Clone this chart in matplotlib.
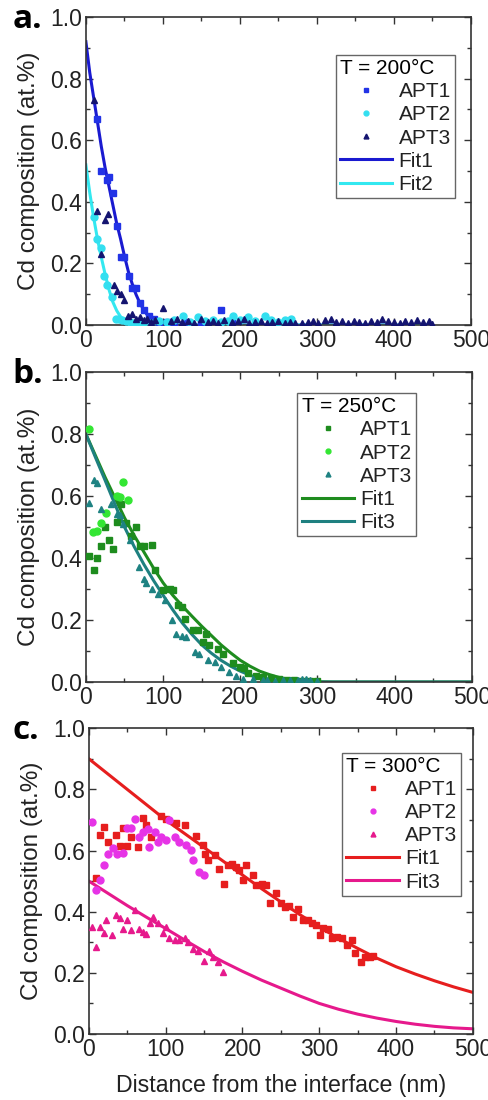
import matplotlib.pyplot as plt
import numpy as np

plt.rcParams['font.family'] = ['Liberation Sans', 'DejaVu Sans']

# ---------------- panel a: T = 200 C ----------------
a_apt1_x = [15, 20, 27, 30, 35, 41, 46, 50, 56, 60, 65, 70, 75, 82, 88, 95, 105, 115, 130, 150, 175, 190]
a_apt1_y = [0.67, 0.50, 0.47, 0.48, 0.43, 0.32, 0.22, 0.22, 0.16, 0.12, 0.12, 0.07, 0.05, 0.03, 0.02, 0.01,
            0.01, 0.008, 0.01, 0.006, 0.048, 0.01]
a_apt2_x = [10, 15, 19, 23, 28, 34, 39, 43, 47, 52, 57, 62, 68, 75, 85, 95, 105, 115, 126, 135, 145, 155,
            165, 175, 185, 191, 200, 210, 220, 232, 240, 250, 258, 267]
a_apt2_y = [0.35, 0.28, 0.25, 0.16, 0.13, 0.09, 0.02, 0.02, 0.016, 0.012, 0.01, 0.008, 0.006, 0.01, 0.008,
            0.012, 0.01, 0.015, 0.03, 0.01, 0.027, 0.012, 0.015, 0.01, 0.012, 0.03, 0.015, 0.027, 0.012, 0.03,
            0.015, 0.01, 0.015, 0.02]
a_apt3_x = [11, 15, 20, 25, 29, 36, 41, 45, 50, 55, 60, 65, 70, 75, 80, 85, 90, 100, 110, 118, 125, 132, 140,
            150, 158, 165, 172, 180, 190, 198, 205, 212, 220, 228, 235, 242, 250, 258, 265, 272, 280, 288,
            295, 302, 310, 318, 325, 332, 340, 348, 355, 362, 370, 378, 385, 392, 400, 408, 415, 422, 430,
            438, 445, 450]
a_apt3_y = [0.73, 0.37, 0.23, 0.34, 0.36, 0.13, 0.11, 0.10, 0.08, 0.03, 0.035, 0.02, 0.025, 0.015, 0.02, 0.01,
            0.015, 0.055, 0.012, 0.02, 0.01, 0.012, 0.008, 0.02, 0.01, 0.012, 0.008, 0.015, 0.01, 0.012,
            0.02, 0.008, 0.01, 0.012, 0.006, 0.01, 0.012, 0.008, 0.01, 0.006, 0.008, 0.01, 0.012, 0.008,
            0.015, 0.02, 0.01, 0.012, 0.008, 0.012, 0.01, 0.008, 0.012, 0.01, 0.02, 0.012, 0.01, 0.008,
            0.012, 0.01, 0.015, 0.01, 0.012, 0.005]
a_fit1_x = [0, 5, 10, 15, 20, 25, 30, 35, 40, 45, 50, 55, 60, 65, 70, 75, 80, 85, 90, 95, 100, 450]
a_fit1_y = [0.92, 0.82, 0.74, 0.66, 0.58, 0.51, 0.45, 0.39, 0.33, 0.28, 0.225, 0.175, 0.135, 0.10, 0.072,
            0.05, 0.032, 0.02, 0.011, 0.004, 0.0, 0.0]
a_fit2_x = [0, 5, 10, 15, 20, 25, 30, 35, 40, 45, 50, 55, 60, 65, 450]
a_fit2_y = [0.52, 0.43, 0.35, 0.28, 0.22, 0.165, 0.115, 0.075, 0.047, 0.027, 0.014, 0.006, 0.002, 0.0, 0.0]

# ---------------- panel b: T = 250 C ----------------
b_apt1_x = [4, 11, 15, 20, 25, 30, 35, 40, 45, 52, 59, 65, 70, 75, 85, 89, 100, 109, 113, 119, 124, 128,
            139, 145, 152, 156, 160, 171, 178, 190, 199, 205, 210, 220, 230, 240, 250, 260, 270, 280, 290, 300]
b_apt1_y = [0.405, 0.36, 0.40, 0.44, 0.50, 0.457, 0.43, 0.516, 0.575, 0.513, 0.47, 0.50, 0.44, 0.44, 0.443,
            0.36, 0.296, 0.30, 0.296, 0.247, 0.242, 0.204, 0.167, 0.167, 0.13, 0.156, 0.118, 0.108, 0.09,
            0.06, 0.048, 0.045, 0.03, 0.02, 0.015, 0.012, 0.01, 0.008, 0.005, 0.004, 0.003, 0.002]
b_apt2_x = [4, 9, 14, 19, 26, 40, 44, 48, 55]
b_apt2_y = [0.815, 0.485, 0.486, 0.514, 0.545, 0.60, 0.597, 0.645, 0.586]
b_apt3_x = [4, 10, 15, 20, 33, 40, 44, 48, 57, 69, 75, 78, 85, 94, 102, 111, 117, 124, 130, 141, 147, 158,
            167, 175, 186, 195, 203, 216, 229, 235, 245, 255, 265, 275, 280, 285, 290, 300]
b_apt3_y = [0.577, 0.653, 0.642, 0.557, 0.575, 0.543, 0.538, 0.51, 0.457, 0.37, 0.333, 0.32, 0.30, 0.285,
            0.263, 0.199, 0.156, 0.15, 0.145, 0.097, 0.09, 0.07, 0.065, 0.048, 0.032, 0.02, 0.01, 0.01,
            0.005, 0.005, 0.004, 0.006, 0.005, 0.008, 0.01, 0.01, 0.008, 0.003]
b_fit1_x = [0, 12.5, 25, 37.5, 50, 62.5, 75, 87.5, 100, 112.5, 125, 137.5, 150, 162.5, 175, 187.5, 200,
            212.5, 225, 237.5, 250, 262.5, 275, 287.5, 300, 320, 500]
b_fit1_y = [0.80, 0.73, 0.66, 0.595, 0.53, 0.473, 0.42, 0.368, 0.32, 0.28, 0.245, 0.212, 0.18, 0.15, 0.12,
            0.094, 0.07, 0.051, 0.035, 0.024, 0.015, 0.009, 0.005, 0.0025, 0.001, 0.0, 0.0]
b_fit3_x = [0, 12.5, 25, 37.5, 50, 62.5, 75, 87.5, 100, 112.5, 125, 137.5, 150, 162.5, 175, 187.5, 200,
            212.5, 225, 237.5, 250, 262.5, 275, 500]
b_fit3_y = [0.80, 0.724, 0.65, 0.574, 0.50, 0.437, 0.38, 0.328, 0.28, 0.233, 0.19, 0.153, 0.12, 0.093, 0.07,
            0.051, 0.035, 0.022, 0.012, 0.006, 0.002, 0.0005, 0.0, 0.0]

# ---------------- panel c: T = 300 C ----------------
c_apt1_x = [10, 14, 20, 25, 35, 40, 44, 50, 55, 64, 70, 75, 81, 94, 101, 114, 125, 140, 149, 151, 155, 164,
            170, 176, 181, 186, 191, 196, 201, 205, 214, 218, 225, 231, 236, 244, 250, 255, 260, 266, 272,
            279, 286, 290, 296, 301, 305, 312, 317, 323, 329, 336, 342, 347, 354, 360, 366, 370]
c_apt1_y = [0.509, 0.65, 0.677, 0.628, 0.65, 0.614, 0.675, 0.614, 0.645, 0.612, 0.707, 0.683, 0.645, 0.712,
            0.704, 0.69, 0.683, 0.648, 0.617, 0.588, 0.57, 0.585, 0.54, 0.49, 0.552, 0.556, 0.547, 0.536,
            0.505, 0.552, 0.52, 0.487, 0.492, 0.487, 0.43, 0.46, 0.427, 0.416, 0.42, 0.384, 0.41, 0.373,
            0.373, 0.362, 0.357, 0.324, 0.346, 0.342, 0.313, 0.318, 0.313, 0.29, 0.308, 0.264, 0.237,
            0.253, 0.253, 0.255]
c_apt2_x = [4, 10, 15, 20, 25, 31, 37, 44, 50, 55, 60, 65, 70, 77, 79, 86, 90, 94, 101, 105, 112, 118, 127,
            133, 136, 144, 150]
c_apt2_y = [0.693, 0.47, 0.505, 0.552, 0.59, 0.607, 0.59, 0.592, 0.675, 0.675, 0.704, 0.645, 0.661, 0.672,
            0.612, 0.661, 0.628, 0.645, 0.634, 0.699, 0.645, 0.628, 0.617, 0.601, 0.568, 0.53, 0.52]
c_apt3_x = [4, 10, 15, 20, 23, 30, 35, 40, 44, 50, 55, 60, 65, 70, 75, 80, 84, 90, 96, 101, 105, 112, 118,
            125, 129, 136, 142, 150, 157, 162, 168, 175]
c_apt3_y = [0.35, 0.286, 0.35, 0.33, 0.373, 0.324, 0.39, 0.38, 0.343, 0.373, 0.34, 0.405, 0.342, 0.335,
            0.327, 0.362, 0.384, 0.362, 0.33, 0.35, 0.313, 0.308, 0.308, 0.313, 0.302, 0.277, 0.27, 0.24,
            0.27, 0.253, 0.237, 0.204]
c_fit1_x = [0, 25, 50, 75, 100, 125, 150, 175, 200, 225, 250, 275, 300, 325, 350, 375, 400, 425, 450, 475, 500]
c_fit1_y = [0.90, 0.85, 0.80, 0.75, 0.70, 0.655, 0.61, 0.565, 0.52, 0.475, 0.432, 0.39, 0.35, 0.313, 0.28,
            0.248, 0.22, 0.196, 0.174, 0.154, 0.136]
c_fit3_x = [0, 25, 50, 75, 100, 125, 150, 175, 200, 225, 250, 275, 300, 325, 350, 375, 400, 425, 450, 475, 500]
c_fit3_y = [0.50, 0.46, 0.42, 0.382, 0.345, 0.307, 0.27, 0.236, 0.205, 0.176, 0.15, 0.124, 0.10, 0.081,
            0.065, 0.052, 0.041, 0.032, 0.025, 0.02, 0.017]

panels = [
    dict(label='a.', temp='T = 200°C', rect=[0.176, 0.7045, 0.789, 0.28], leg_x=0.65, leg_y=0.877,
         pts=[(a_apt1_x, a_apt1_y, 's', '#2233e6'), (a_apt2_x, a_apt2_y, 'o', '#33dff0'),
              (a_apt3_x, a_apt3_y, '^', '#141470')],
         fits=[(a_fit1_x, a_fit1_y, '#1a1ad0', 'Fit1'), (a_fit2_x, a_fit2_y, '#33e8f0', 'Fit2')]),
    dict(label='b.', temp='T = 250°C', rect=[0.176, 0.38, 0.791, 0.2818], leg_x=0.548, leg_y=0.932,
         pts=[(b_apt1_x, b_apt1_y, 's', '#1e8c1e'), (b_apt2_x, b_apt2_y, 'o', '#33e633'),
              (b_apt3_x, b_apt3_y, '^', '#1e8282')],
         fits=[(b_fit1_x, b_fit1_y, '#1e8c1e', 'Fit1'), (b_fit3_x, b_fit3_y, '#1e8080', 'Fit3')]),
    dict(label='c.', temp='T = 300°C', rect=[0.182, 0.06, 0.787, 0.278], leg_x=0.66, leg_y=0.92,
         pts=[(c_apt1_x, c_apt1_y, 's', '#e61e1e'), (c_apt2_x, c_apt2_y, 'o', '#e633e6'),
              (c_apt3_x, c_apt3_y, '^', '#e6198c')],
         fits=[(c_fit1_x, c_fit1_y, '#e61e1e', 'Fit1'), (c_fit3_x, c_fit3_y, '#e6198c', 'Fit3')]),
]

fig = plt.figure(figsize=(4.88, 11), dpi=100)

for i, p in enumerate(panels):
    ax = fig.add_axes(p['rect'])
    for k, (x, y, m, c) in enumerate(p['pts']):
        ax.plot(x, y, ls='none', marker=m, ms=5, color=c, mec=c, label='APT%d' % (k + 1), zorder=3)
    for x, y, c, lab in p['fits']:
        ax.plot(x, y, color=c, lw=2.2, label=lab, zorder=2)

    ax.set_xlim(0, 500)
    ax.set_ylim(0, 1.0)
    ax.set_xticks(np.arange(0, 501, 100))
    ax.set_xticks(np.arange(0, 501, 50), minor=True)
    ax.set_yticks(np.arange(0, 1.01, 0.2))
    ax.set_yticks(np.arange(0, 1.01, 0.1), minor=True)
    ax.yaxis.set_major_formatter(plt.FormatStrFormatter('%.1f'))
    ax.tick_params(which='both', direction='in', top=True, right=True, colors='#333333',
                   labelsize=16.5, labelcolor='#222222')
    ax.tick_params(which='major', length=5, width=1)
    ax.tick_params(which='minor', length=3, width=1)
    ax.tick_params(axis='x', pad=3)
    ax.tick_params(axis='y', pad=3)
    for s in ax.spines.values():
        s.set_color('#333333')
        s.set_linewidth(1.2)

    ax.set_ylabel('Cd composition (at.%)', fontsize=17.5, color='#222222', labelpad=7)
    if i == 2:
        ax.set_xlabel('Distance from the interface (nm)', fontsize=16.7, color='#222222', labelpad=9)

    leg = ax.legend(title=p['temp'], loc='upper left', bbox_to_anchor=(p['leg_x'], p['leg_y']),
                    fontsize=15, title_fontsize=15, fancybox=False, edgecolor='#666666',
                    framealpha=1, handlelength=2.5, handletextpad=0.3, borderpad=0.2,
                    borderaxespad=0, labelspacing=0.2, markerscale=0.7, alignment='left')
    leg.get_frame().set_linewidth(1.0)
    for t in leg.get_texts():
        t.set_color('#222222')

    fig.text(0.025, p['rect'][1] + p['rect'][3] - 0.002, p['label'], fontsize=24, fontweight='bold',
             ha='left', va='center', family=['Open Sans', 'DejaVu Sans'])

fig.savefig('out.png', dpi=100)
